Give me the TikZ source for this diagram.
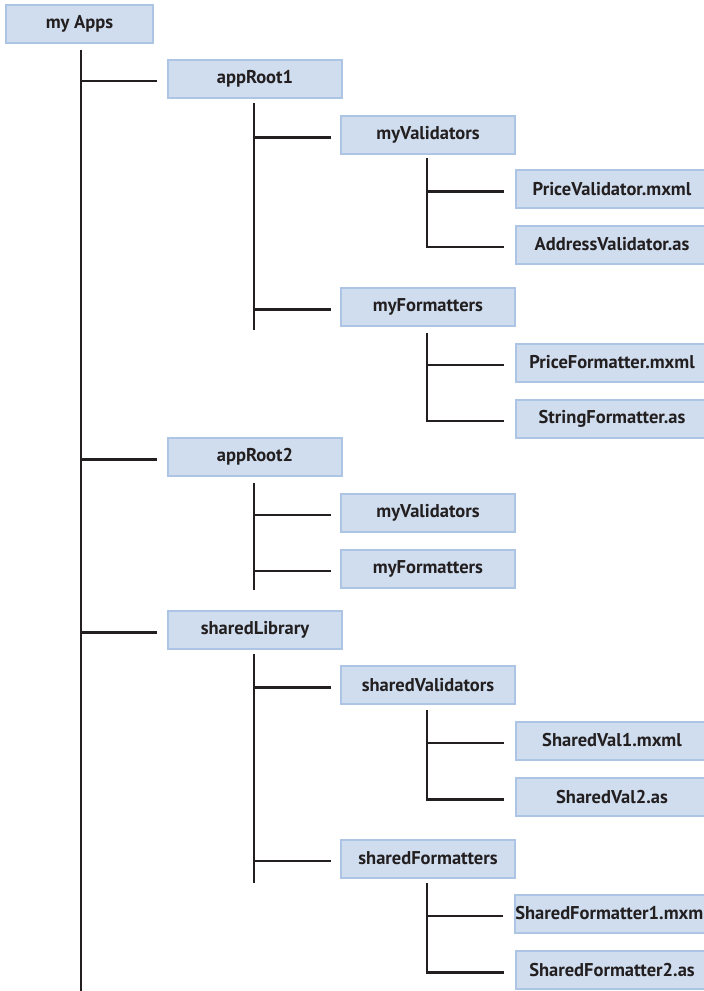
\documentclass[tikz,border=0pt]{standalone}
\usepackage{fontspec}
\setmainfont{PT Sans}
\usepackage{xcolor}
\usepackage{tikz}
\usetikzlibrary{calc}
\definecolor{boxfill}{RGB}{207,221,238}
\definecolor{boxline}{RGB}{172,197,229}
\definecolor{treeline}{RGB}{35,31,32}

\begin{document}
\begin{tikzpicture}[x=1pt, y=-1pt, line join=miter,
  dirbox/.style={draw=boxline, fill=boxfill, line width=2pt, minimum height=38pt,
    inner sep=0pt, text=treeline, font=\fontsize{18.5}{22}\selectfont\bfseries},
  rootbox/.style={dirbox, minimum width=147pt},
  subbox/.style={dirbox, minimum width=174pt},
  filebox/.style={dirbox, minimum width=193pt},
  branch/.style={draw=treeline, line width=2.6pt}]
  \clip (0,0) rectangle (704,991);
  \fill[white] (0,0) rectangle (704,991);
  % boxes
  \node[rootbox] (myapps) at (79.5,24) {my Apps};
  \node[subbox] (approot1) at (255,78.5) {appRoot1};
  \node[subbox] (val1) at (428,135) {myValidators};
  \node[filebox] (priceval) at (612,189) {PriceValidator.mxml};
  \node[filebox] (addrval) at (612,244.5) {AddressValidator.as};
  \node[subbox] (fmt1) at (428,307) {myFormatters};
  \node[filebox] (pricefmt) at (612,362.5) {PriceFormatter.mxml};
  \node[filebox] (strfmt) at (612,418.5) {StringFormatter.as};
  \node[subbox] (approot2) at (255,457) {appRoot2};
  \node[subbox] (val2) at (428,512.5) {myValidators};
  \node[subbox] (fmt2) at (428,568.5) {myFormatters};
  \node[subbox] (shlib) at (255,630) {sharedLibrary};
  \node[subbox] (shval) at (428,685) {sharedValidators};
  \node[filebox] (shval1) at (612,740.5) {SharedVal1.mxml};
  \node[filebox] (shval2) at (612,797) {SharedVal2.as};
  \node[subbox] (shfmt) at (428,858.5) {sharedFormatters};
  \node[filebox] (shfmt1) at (612,913.5) {SharedFormatter1.mxml};
  \node[filebox] (shfmt2) at (612,970) {SharedFormatter2.as};

  % trunks
  \coordinate (t0) at (81,50);      \coordinate (t0end) at (81,991);
  \coordinate (t1) at (254,103);    \coordinate (t1end) at (254,330);
  \coordinate (t2) at (254,483);    \coordinate (t2end) at (254,590);
  \coordinate (t3) at (254,654);    \coordinate (t3end) at (254,883);
  \coordinate (v1) at (427,158);
  \coordinate (f1) at (427,333);
  \coordinate (v3) at (427,710);
  \coordinate (f3) at (427,883);
  \draw[branch] (t0) -- (t0end);
  \draw[branch] (t1) -- (t1end);
  \draw[branch] (t2) -- (t2end);
  \draw[branch] (t3) -- (t3end);

  % branches: trunk/child pairs
  \foreach \trunk/\kid/\gap in {t0/approot1/10, t0/approot2/10, t0/shlib/10,
      t1/val1/9, t1/fmt1/9, t2/val2/9, t2/fmt2/9, t3/shval/9, t3/shfmt/9,
      v1/priceval/11, f1/pricefmt/11, v3/shval1/11, f3/shfmt1/11}{
    \coordinate (\kid-in) at ([shift={(-\gap,2.5)}]\kid.west);
    \draw[branch] (\kid-in) -- (\trunk |- \kid-in);
  }
  % last children close the trunk with a corner
  \foreach \trunk/\kid in {v1/addrval, f1/strfmt, v3/shval2, f3/shfmt2}{
    \coordinate (\kid-in) at ([shift={(-11,2.5)}]\kid.west);
    \draw[branch] (\trunk) |- (\kid-in);
  }
\end{tikzpicture}
\end{document}
